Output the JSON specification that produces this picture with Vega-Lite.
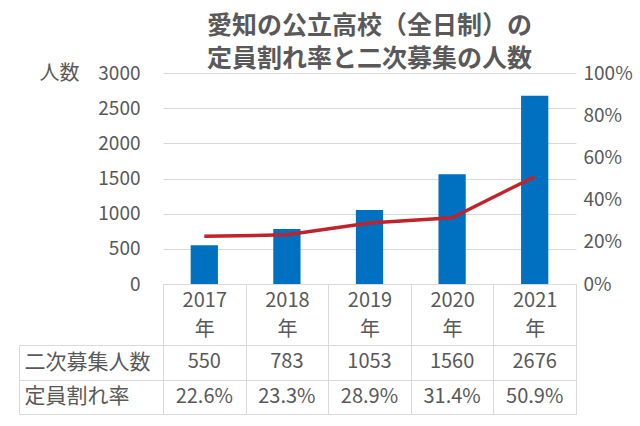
{
  "$schema": "https://vega.github.io/schema/vega-lite/v6.json",
  "padding": {"left": 18, "top": 14, "right": 0, "bottom": 0},
  "background": "white",
  "datasets": {
    "main": [
      {"year": "2017", "count": 550, "rate": 0.226},
      {"year": "2018", "count": 783, "rate": 0.233},
      {"year": "2019", "count": 1053, "rate": 0.289},
      {"year": "2020", "count": 1560, "rate": 0.314},
      {"year": "2021", "count": 2676, "rate": 0.509}
    ],
    "table": [
      {"year": "2017", "row": "二次募集人数", "text": "550"},
      {"year": "2018", "row": "二次募集人数", "text": "783"},
      {"year": "2019", "row": "二次募集人数", "text": "1053"},
      {"year": "2020", "row": "二次募集人数", "text": "1560"},
      {"year": "2021", "row": "二次募集人数", "text": "2676"},
      {"year": "2017", "row": "定員割れ率", "text": "22.6%"},
      {"year": "2018", "row": "定員割れ率", "text": "23.3%"},
      {"year": "2019", "row": "定員割れ率", "text": "28.9%"},
      {"year": "2020", "row": "定員割れ率", "text": "31.4%"},
      {"year": "2021", "row": "定員割れ率", "text": "50.9%"}
    ]
  },
  "bounds": "flush",
  "spacing": 61,
  "vconcat": [
    {
      "title": {
        "text": ["愛知の公立高校（全日制）の", "定員割れ率と二次募集の人数"],
        "fontSize": 25,
        "fontWeight": "bold",
        "color": "#595959",
        "frame": "group",
        "anchor": "middle",
        "lineHeight": 33,
        "offset": -9
      },
      "width": 413,
      "height": 211,
      "data": {"name": "main"},
      "encoding": {
        "x": {
          "field": "year",
          "type": "ordinal",
          "scale": {"paddingInner": 0, "paddingOuter": 0},
          "axis": {
            "title": null,
            "labelExpr": "datum.label ? [datum.label, '年'] : ''",
            "labelAngle": 0,
            "labelFontSize": 20,
            "labelColor": "#595959",
            "labelLineHeight": 29,
            "labelPadding": -55,
            "labelBaseline": "top",
            "tickBand": "extent",
            "tickSize": 61,
            "tickColor": "#d9d9d9",
            "domainColor": "#d9d9d9"
          }
        }
      },
      "layer": [
        {
          "mark": {"type": "bar", "color": "#0070C0", "width": {"band": 0.33}},
          "encoding": {
            "y": {
              "field": "count",
              "type": "quantitative",
              "scale": {"domain": [0, 3000]},
              "axis": {
                "title": "人数",
                "titleAngle": 0,
                "titleX": -104,
                "titleY": 0,
                "titleAlign": "center",
                "titleBaseline": "middle",
                "titleFontSize": 20,
                "titleFontWeight": "normal",
                "titleColor": "#595959",
                "values": [0, 500, 1000, 1500, 2000, 2500, 3000],
                "format": "d",
                "labelFontSize": 19,
                "labelColor": "#595959",
                "labelPadding": 23,
                "ticks": false,
                "domain": false,
                "grid": true,
                "gridColor": "#d9d9d9"
              }
            }
          }
        },
        {
          "mark": {"type": "line", "color": "#C0232B", "strokeWidth": 3.5},
          "encoding": {
            "y": {
              "field": "rate",
              "type": "quantitative",
              "scale": {"domain": [0, 1]},
              "axis": {
                "orient": "right",
                "title": null,
                "values": [0, 0.2, 0.4, 0.6, 0.8, 1],
                "format": ".0%",
                "labelFontSize": 19,
                "labelColor": "#595959",
                "labelPadding": 7,
                "ticks": false,
                "domain": false,
                "grid": false
              }
            }
          }
        }
      ],
      "resolve": {"scale": {"y": "independent"}}
    },
    {
      "width": 413,
      "height": 69,
      "data": {"name": "table"},
      "encoding": {
        "x": {
          "field": "year",
          "type": "ordinal",
          "scale": {"paddingInner": 0, "paddingOuter": 0},
          "axis": {
            "title": null,
            "labels": false,
            "ticks": false,
            "domain": false,
            "grid": true,
            "gridColor": "#d9d9d9",
            "tickBand": "extent"
          }
        }
      },
      "layer": [
        {
          "mark": {"type": "text", "fontSize": 20, "color": "#595959"},
          "encoding": {
            "text": {"field": "text"},
            "y": {
              "field": "row",
              "type": "ordinal",
              "sort": ["二次募集人数", "定員割れ率"],
              "scale": {"paddingInner": 0, "paddingOuter": 0},
              "axis": {
                "title": null,
                "orient": "left",
                "tickBand": "extent",
                "tickSize": 144,
                "tickColor": "#d9d9d9",
                "domain": false,
                "grid": true,
                "gridColor": "#d9d9d9",
                "labelAlign": "left",
                "labelPadding": -5,
                "labelFontSize": 21,
                "labelColor": "#595959",
                "labelBaseline": "middle"
              }
            }
          }
        },
        {
          "mark": {"type": "rect", "opacity": 0},
          "encoding": {
            "y": {
              "field": "row",
              "type": "ordinal",
              "sort": ["二次募集人数", "定員割れ率"],
              "axis": {
                "title": null,
                "orient": "left",
                "offset": 144,
                "labels": false,
                "ticks": false,
                "grid": false,
                "domain": true,
                "domainColor": "#d9d9d9"
              }
            }
          }
        }
      ],
      "resolve": {"axis": {"y": "independent"}}
    }
  ],
  "config": {
    "font": "Noto Sans CJK JP",
    "view": {"stroke": null}
  }
}
